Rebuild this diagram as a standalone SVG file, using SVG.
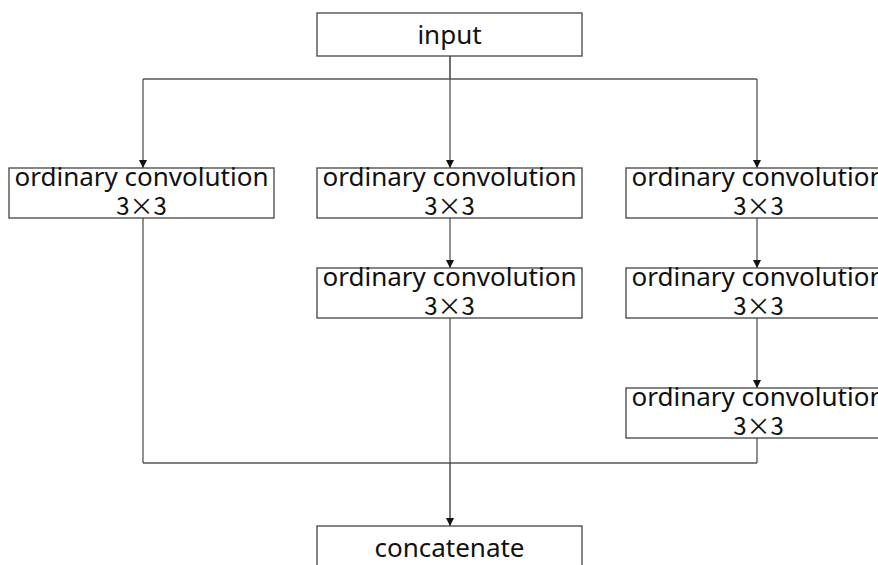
<svg xmlns="http://www.w3.org/2000/svg" width="878" height="565" viewBox="0 0 878 565">
  <defs>
    <marker id="arrow" viewBox="0 0 8 10" refX="8" refY="5" markerWidth="8" markerHeight="10" markerUnits="userSpaceOnUse" orient="auto">
      <path d="M0,1 L8,5 L0,9 Z" fill="#111"/>
    </marker>
  </defs>
  <style>
    .box { fill: #fff; stroke: #444; stroke-width: 1.3; }
    .lbl { font-family: "Noto Sans", "Open Sans", sans-serif; font-size: 26px; fill: #111; text-anchor: middle; }
    .dim { font-family: "Noto Sans CJK SC", "Noto Sans", sans-serif; font-size: 24px; fill: #111; text-anchor: middle; }
    .wire { fill: none; stroke: #555; stroke-width: 1.3; }
    .arr { marker-end: url(#arrow); }
  </style>
  <rect width="878" height="565" fill="#fff"/>

  <g id="connectors">
    <!-- input fan-out -->
    <line class="wire" x1="450" y1="56" x2="450" y2="79" style="stroke:#222"/>
    <polyline class="wire" points="143,79 757,79"/>
    <line class="wire arr" x1="143" y1="79" x2="143" y2="168"/>
    <line class="wire arr" x1="450" y1="79" x2="450" y2="168"/>
    <line class="wire arr" x1="757" y1="79" x2="757" y2="168"/>
    <!-- column chains -->
    <line class="wire arr" x1="450" y1="218" x2="450" y2="268"/>
    <line class="wire arr" x1="757" y1="218" x2="757" y2="268"/>
    <line class="wire arr" x1="757" y1="318" x2="757" y2="388"/>
    <!-- merge -->
    <line class="wire" x1="143" y1="218" x2="143" y2="463"/>
    <line class="wire" x1="450" y1="318" x2="450" y2="463"/>
    <line class="wire" x1="757" y1="438" x2="757" y2="463"/>
    <polyline class="wire" points="143,463 757,463"/>
    <line class="wire arr" x1="450" y1="463" x2="450" y2="526" style="stroke:#333"/>
  </g>

  <g id="input">
    <rect class="box" x="317" y="13" width="265" height="43"/>
    <text class="lbl" x="449.5" y="44">input</text>
  </g>

  <g id="conv-left">
    <rect class="box" x="9" y="168" width="265" height="50"/>
    <text class="lbl" x="141.5" y="186">ordinary convolution</text>
    <text class="dim" x="141.5" y="215">3×3</text>
  </g>

  <g id="conv-mid-1">
    <rect class="box" x="317" y="168" width="265" height="50"/>
    <text class="lbl" x="449.5" y="186">ordinary convolution</text>
    <text class="dim" x="449.5" y="215">3×3</text>
  </g>

  <g id="conv-mid-2">
    <rect class="box" x="317" y="268" width="265" height="50"/>
    <text class="lbl" x="449.5" y="286">ordinary convolution</text>
    <text class="dim" x="449.5" y="315">3×3</text>
  </g>

  <g id="conv-right-1">
    <rect class="box" x="626" y="168" width="265" height="50"/>
    <text class="lbl" x="758.5" y="186">ordinary convolution</text>
    <text class="dim" x="758.5" y="215">3×3</text>
  </g>

  <g id="conv-right-2">
    <rect class="box" x="626" y="268" width="265" height="50"/>
    <text class="lbl" x="758.5" y="286">ordinary convolution</text>
    <text class="dim" x="758.5" y="315">3×3</text>
  </g>

  <g id="conv-right-3">
    <rect class="box" x="626" y="388" width="265" height="50"/>
    <text class="lbl" x="758.5" y="406">ordinary convolution</text>
    <text class="dim" x="758.5" y="435">3×3</text>
  </g>

  <g id="concatenate">
    <rect class="box" x="317" y="526" width="265" height="50"/>
    <text class="lbl" x="449.5" y="557">concatenate</text>
  </g>
</svg>
